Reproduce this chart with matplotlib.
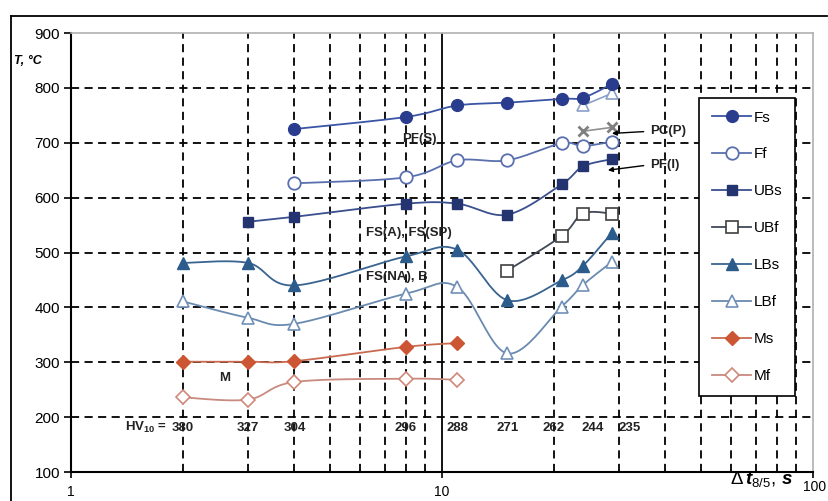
import numpy as np
import matplotlib
matplotlib.use("Agg")
import matplotlib.pyplot as plt
from matplotlib.lines import Line2D
from matplotlib.ticker import FixedLocator, NullFormatter, FixedFormatter

plt.rcParams['font.family'] = ['Liberation Sans', 'DejaVu Sans']
plt.rcParams['mathtext.fontset'] = 'custom'
plt.rcParams['mathtext.rm'] = 'Liberation Sans'
plt.rcParams['mathtext.it'] = 'Liberation Sans:italic:bold'
plt.rcParams['mathtext.bf'] = 'Liberation Sans:bold'

# cooling time t8/5 (s) and transformation temperatures (deg C)
x_f = [4, 8, 11, 15, 21, 24, 28.7]
fs = [725, 747, 768, 773, 780, 782, 807]
ff = [626, 637, 668, 668, 699, 694, 702]

x_ubs = [3, 4, 8, 11, 15, 21, 24, 28.7]
ubs = [556, 565, 589, 589, 569, 624, 657, 670]

x_ubf = [15, 21, 24, 28.7]
ubf = [467, 530, 571, 571]

x_lb = [2, 3, 4, 8, 11, 15, 21, 24, 28.7]
lbs = [481, 481, 440, 493, 505, 413, 449, 476, 536]
lbf = [411, 381, 370, 425, 437, 316, 401, 441, 483]

x_m = [2, 3, 4, 8, 11]
ms = [301, 301, 302, 328, 335]
mf = [236, 232, 264, 270, 268]

x_pc = [24, 28.7]
pc = [721, 728]
x_pfs = [24, 28.7]
pfs = [768, 790]

# hardness values written along the bottom
hv_x = [2, 3, 4, 8, 11, 15, 20, 25.5, 32]
hv_labels = ["380", "327", "304", "296", "288", "271", "262", "244", "235"]

# scale of one decade relative to one degree, used for smooth curves
SX, SY = 371.0, 0.549


def smooth(xs, ys, n=24):
    px = np.log10(np.asarray(xs, float)) * SX
    py = np.asarray(ys, float) * SY
    P = np.column_stack([px, py])
    if len(P) < 3:
        out = P
    else:
        pts = []
        for i in range(len(P) - 1):
            p0 = P[i - 1] if i > 0 else P[i]
            p1 = P[i]
            p2 = P[i + 1]
            p3 = P[i + 2] if i + 2 < len(P) else P[i + 1]
            c1 = p1 + (p2 - p0) / 6.0
            c2 = p2 - (p3 - p1) / 6.0
            t = np.linspace(0, 1, n)[:, None]
            seg = ((1 - t) ** 3) * p1 + 3 * ((1 - t) ** 2) * t * c1 \
                + 3 * (1 - t) * t ** 2 * c2 + t ** 3 * p2
            pts.append(seg if i == 0 else seg[1:])
        out = np.vstack(pts)
    return 10 ** (out[:, 0] / SX), out[:, 1] / SY


fig = plt.figure(figsize=(8.29, 5.01), dpi=100)
ax = fig.add_axes([71 / 829, 1 - 472 / 501, 742 / 829, 439 / 501])
ax.set_xscale('log')
ax.set_xlim(1, 100)
ax.set_ylim(100, 900)

# grid: dashed minor verticals, solid line at 10, dashed horizontals
for gx in list(range(2, 10)) + list(range(20, 100, 10)):
    ax.axvline(gx, color='black', lw=1.3, ls=(0, (4.5, 3)), zorder=1)
ax.axvline(10, color='black', lw=1.3, zorder=1)
for gy in range(200, 900, 100):
    ax.axhline(gy, color='black', lw=1.3, ls=(0, (4.5, 3)), zorder=1)

series = [
    (x_f, fs, 'Fs', dict(color='#3a55a5', marker='o', mfc='#2a3c8e', mec='#2a3c8e', ms=8.5)),
    (x_f, ff, 'Ff', dict(color='#5a6fae', marker='o', mfc='white', mec='#5a6fae', ms=9, mew=1.3)),
    (x_ubs, ubs, 'UBs', dict(color='#3a4f8f', marker='s', mfc='#243470', mec='#243470', ms=7.5)),
    (x_ubf, ubf, 'UBf', dict(color='#404858', marker='s', mfc='white', mec='#404040', ms=8, mew=1.2)),
    (x_lb, lbs, 'LBs', dict(color='#3a6490', marker='^', mfc='#2c5c8c', mec='#2c5c8c', ms=9)),
    (x_lb, lbf, 'LBf', dict(color='#6a8ab0', marker='^', mfc='white', mec='#7090b8', ms=9, mew=1.2)),
    (x_m, ms, 'Ms', dict(color='#c96a50', marker='D', mfc='#cc5533', mec='#cc5533', ms=7)),
    (x_m, mf, 'Mf', dict(color='#c98a80', marker='D', mfc='white', mec='#d08878', ms=7, mew=1.2)),
]

handles = []
for xs, ys, name, st in series:
    sx, sy = smooth(xs, ys)
    ax.plot(sx, sy, color=st['color'], lw=1.3, zorder=3)
    ax.plot(xs, ys, ls='none', marker=st['marker'], mfc=st['mfc'], mec=st['mec'],
            ms=st['ms'], mew=st.get('mew', 1.0), zorder=4)
    h, = ax.plot([], [], color=st['color'], lw=1.3, marker=st['marker'], mfc=st['mfc'],
                 mec=st['mec'], ms=st['ms'], mew=st.get('mew', 1.0), label=name)
    handles.append(h)

# pearlitic colony and pearlitic ferrite extra points
ax.plot(x_pfs, pfs, color='#8aa0c8', lw=1.2, marker='^', mfc='white', mec='#8aa0c8',
        ms=8, mew=1.2, zorder=3)
ax.plot(x_pc, pc, color='#909090', lw=1.2, marker='x', mec='#808080', ms=7.5, mew=2.0,
        zorder=4)

leg = ax.legend(handles=handles, loc='upper left', bbox_to_anchor=(0.846, 0.853),
                frameon=True, fancybox=False, framealpha=1, edgecolor='black',
                fontsize=11, labelspacing=1.5, handlelength=2.6, handletextpad=0.15,
                borderpad=0.85, borderaxespad=0)
leg.get_frame().set_linewidth(1.2)
leg.set_zorder(6)

# annotations
bold = dict(fontsize=9.5, fontweight='bold', color='#222222', zorder=5)
ax.text(8.7, 707, 'PF(S)', ha='center', va='center', **bold)
ax.text(6.25, 536, 'FS(A), FS(SP)', ha='left', va='center', **bold)
ax.text(6.25, 456, 'FS(NA), B', ha='left', va='center', **bold)
ax.text(2.6, 272, 'M', ha='center', va='center', **bold)
arrow = dict(arrowstyle='-|>', color='black', lw=1.0, mutation_scale=7,
             shrinkA=3, shrinkB=0, relpos=(0, 0.5))
ax.annotate('PC(P)', xy=(28.7, 717), xytext=(36.5, 721), ha='left', va='center',
            arrowprops=arrow, **bold)
ax.annotate('PF(I)', xy=(28.0, 650), xytext=(36.5, 660), ha='left', va='center',
            arrowprops=arrow, **bold)

for hx, lab in zip(hv_x, hv_labels):
    ax.text(hx, 181, lab, ha='center', va='center', **bold)
ax.text(1.82, 181, r'HV$_{\mathbf{10}}$ = ', ha='right', va='center', **bold)

# axes styling
for s in ['left', 'bottom']:
    ax.spines[s].set_linewidth(1.5)
    ax.spines[s].set_color('black')
for s in ['top', 'right']:
    ax.spines[s].set_linewidth(1.2)
    ax.spines[s].set_color('#b0b0b0')

ax.yaxis.set_major_locator(FixedLocator(range(100, 1000, 100)))
ax.tick_params(axis='y', direction='out', length=5, width=1.2, labelsize=11, pad=3)
ax.xaxis.set_major_locator(FixedLocator([1, 10, 100]))
ax.xaxis.set_major_formatter(FixedFormatter(['1', '10', '']))
ax.xaxis.set_minor_formatter(NullFormatter())
ax.tick_params(axis='x', which='major', direction='out', length=4, width=1.2,
               labelsize=10, pad=5)
ax.tick_params(axis='x', which='minor', length=0)

fig.text(826 / 829, 1 - 487 / 501, '100', ha='right', va='center', fontsize=10)
fig.text(730 / 829, 1 - 479 / 501, r'$\mathit{\Delta\,t}_{\mathit{8/5}}\mathit{,\,s}$',
         ha='left', va='center', fontsize=13.5)
fig.text(14 / 829, 1 - 61 / 501, 'T, °C', ha='left', va='center', fontsize=9,
         fontweight='bold', style='italic')

# frame lines along the top and left of the figure
fig.add_artist(Line2D([11 / 829, 11 / 829], [0, 1 - 16 / 501], transform=fig.transFigure,
                      color='black', lw=1.3))
fig.add_artist(Line2D([11 / 829, 827 / 829], [1 - 16 / 501, 1 - 16 / 501],
                      transform=fig.transFigure, color='black', lw=1.3))

fig.savefig('out.png', dpi=100)
